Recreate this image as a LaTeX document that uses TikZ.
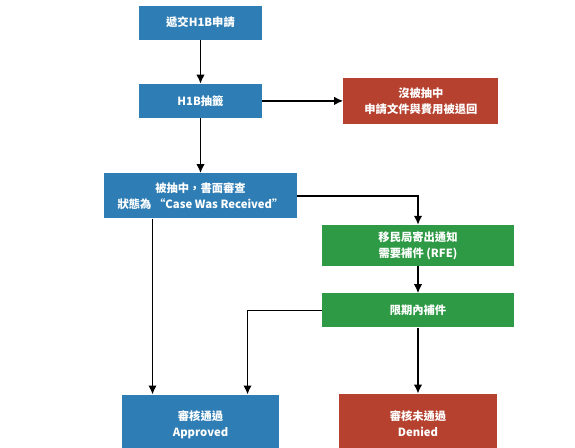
\documentclass[tikz,border=0pt]{standalone}
\usepackage{fontspec}
\usepackage{xcolor}
\usepackage{tikz}
\usetikzlibrary{arrows.meta, positioning}
\newfontfamily\cjk{Noto Sans CJK TC}
\definecolor{stepblue}{HTML}{2E7DB5}
\definecolor{stepred}{HTML}{B5412E}
\definecolor{stepgreen}{HTML}{2F9A45}
\tikzset{
  flowbox/.style={inner sep=0pt, align=center, text=white,
    font=\cjk\bfseries\fontsize{11.3}{16}\selectfont},
  bluebox/.style={flowbox, fill=stepblue},
  redbox/.style={flowbox, fill=stepred},
  greenbox/.style={flowbox, fill=stepgreen},
  arrow/.style={-{Latex[length=9pt,width=8.5pt]}, line width=1.6pt}
}
\begin{document}
\begin{tikzpicture}[x=1pt, y=-1pt]
    \useasboundingbox (0,0) rectangle (575,447);
    \node[bluebox, minimum width=123pt, minimum height=34pt] (submit) at (200.5,22.5) {遞交H1B申請};
    \node[bluebox, minimum width=123pt, minimum height=34pt, below=44pt of submit] (lottery) {H1B抽籤};
    \node[redbox, minimum width=155pt, minimum height=46pt, right=81pt of lottery] (notpicked) {沒被抽中\\申請文件與費用被退回};
    \node[bluebox, minimum width=193pt, minimum height=45pt, below=55pt of lottery] (review) {被抽中，書面審查\\狀態為 “Case Was Received”};
    \node[greenbox, minimum width=192pt, minimum height=41pt] (rfe) at (418,245.5) {移民局寄出通知\\需要補件 (RFE)};
    \node[greenbox, minimum width=192pt, minimum height=34pt, below=27pt of rfe] (resubmit) {限期內補件};
    \node[bluebox, minimum width=157pt, minimum height=60pt, below=176pt of review] (approved) {審核通過\\Approved};
    \node[redbox, minimum width=158pt, minimum height=60pt, below=66pt of resubmit] (denied) {審核未通過\\Denied};
    \draw[arrow] (submit) -- (lottery);
    \draw[arrow] (lottery) -- (notpicked);
    \draw[arrow] (lottery) -- (review);
    \draw[arrow] (review.east) -| (rfe.north);
    \draw[arrow] (rfe) -- (resubmit);
    \draw[arrow] ([xshift=-48pt]review.south) -- ([xshift=-48pt]approved.north);
    \draw[arrow] (resubmit.west) -| ([xshift=47pt]approved.north);
    \draw[arrow] (resubmit) -- (denied);
  \end{tikzpicture}
\end{document}
